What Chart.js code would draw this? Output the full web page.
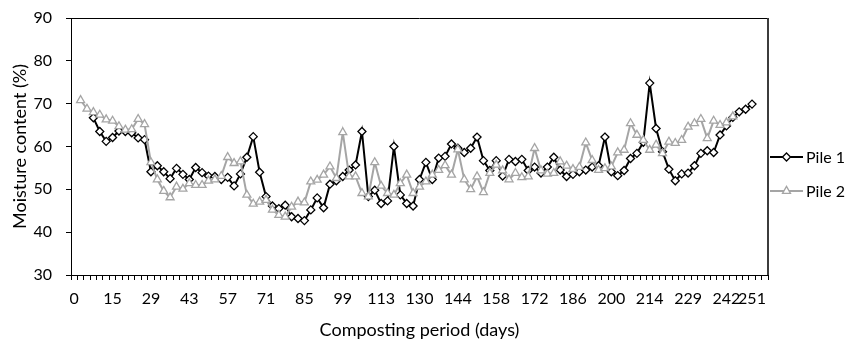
<!DOCTYPE html>
<html>
<head>
<meta charset="utf-8">
<script src="https://cdn.jsdelivr.net/npm/chart.js@4/dist/chart.umd.min.js"></script>
<style>
  html, body { margin: 0; padding: 0; background: #fff; }
  #wrap { width: 850px; height: 340px; position: relative; }
</style>
</head>
<body>
<div id="wrap"><canvas id="c"></canvas></div>
<script>
/* ─── moisture content chart ─────────────────────────────────────────────── */

const nCategories = 109;
const tickDays = ['0', '15', '29', '43', '57', '71', '85', '99', '113', '130', '144', '158', '172', '186', '200', '214', '229', '242', '251'];
const tickAt   = [0, 6, 12, 18, 24, 30, 36, 42, 48, 54, 60, 66, 72, 78, 84, 90, 96, 102, 106];

const seriesNames = ['Pile 1', 'Pile 2'];

const pile1 = [
    null, null, null, 66.7, 63.5, 61.2, 62.1, 63.6, 63.5, 63.2,
    62, 61.6, 54.1, 55.5, 54.1, 52.5, 54.9, 53.5, 52.3, 55.1,
    53.9, 53.1, 53, 52.3, 52.8, 50.8, 53.6, 57.5, 62.3, 54,
    48.3, 46.1, 45.5, 46.3, 43.6, 43.2, 42.7, 45.2, 48, 45.7,
    51.2, 52, 53, 54.5, 55.7, 63.5, 48.3, 49.8, 46.7, 47.3,
    60, 48.7, 46.7, 46.1, 52.3, 56.3, 52.3, 57.3, 57.7, 60.6,
    59.6, 58.6, 59.6, 62.2, 56.7, 54.4, 56.7, 53.1, 57, 56.5,
    57, 54.4, 55.2, 53.8, 55.2, 57.5, 54.5, 53, 53.5, 54.1,
    54.5, 55.2, 55.5, 62.2, 54.1, 53.2, 54.4, 57.2, 58.4, 61,
    74.8, 64.2, 58.8, 54.7, 52, 53.6, 53.8, 55.5, 58.4, 59,
    58.6, 62.7, 64.8, 66.8, 68.1, 68.7, 69.9
];

const pile2 = [
    null, 70.8, 68.8, 68, 67.4, 66.3, 66, 64.7, 63.9, 64,
    66.4, 65.2, 56.3, 52.3, 49.6, 48.1, 50.6, 50.1, 51.4, 51,
    51, 52, 52.3, 53.1, 57.5, 56.1, 56.5, 48.7, 46.6, 47.1,
    47.5, 45.2, 44, 43.6, 45.9, 47.1, 46.9, 51.8, 52.2, 53.4,
    55.3, 52.6, 63.3, 53, 53, 49.1, 48.3, 56.3, 50.8, 49.1,
    48.7, 51.4, 53.4, 49.1, 50.6, 51.8, 53.4, 54.5, 55.6, 53.4,
    59.3, 52.3, 50, 53, 49.3, 53.8, 55.7, 54.4, 52.3, 53.8,
    52.8, 53, 59.6, 54.4, 53.6, 53.8, 56.5, 55.5, 54.7, 55.2,
    60.9, 56.8, 54.5, 54.9, 55.3, 58.6, 59.2, 65.4, 62.7, 61.5,
    59.2, 60.4, 58.4, 61.1, 60.8, 61.5, 64.6, 65.4, 66.4, 61.9,
    66, 65, 65.6, 67
];

const yMin = 30, yMax = 90, yStep = 10;
const xTitle = 'Composting period (days)';
const yTitle = 'Moisture content (%)';

/* category labels: only every few sampling days carry a label */
const categories = Array(nCategories).fill('');
tickAt.forEach((idx, i) => { categories[idx] = tickDays[i]; });

const FONT = { family: 'Lato', size: 16 };
const TITLE_FONT = { family: 'Lato', size: 18 };
const GRAY = '#A5A5A5';

const STYLES = [
    { color: '#000', pointStyle: 'rectRot', radius: 4, order: 2 },
    { color: GRAY, pointStyle: 'triangle', radius: 4.6, order: 1 },
];

/* plot frame, x title and the legend drawn by hand */
const extras = {
    id: 'extras',
    afterDraw(chart) {
        const { ctx, chartArea: a } = chart;
        ctx.save();
        ctx.strokeStyle = '#000';
        ctx.lineWidth = 1;
        ctx.beginPath();
        ctx.moveTo(a.left, a.top + 0.5);
        ctx.lineTo(a.right, a.top + 0.5);
        ctx.stroke();
        ctx.strokeStyle = '#3c3c3c';
        ctx.lineWidth = 2;
        ctx.beginPath();
        ctx.moveTo(a.right, a.top);
        ctx.lineTo(a.right, a.bottom);
        ctx.stroke();

        ctx.fillStyle = '#000';
        ctx.font = `${TITLE_FONT.size}px ${TITLE_FONT.family}`;
        ctx.textAlign = 'center';
        ctx.textBaseline = 'alphabetic';
        ctx.fillText(xTitle, (a.left + a.right) / 2, 336);

        // legend
        ctx.font = `${FONT.size}px ${FONT.family}`;
        const rows = [157, 191];
        seriesNames.forEach((name, i) => {
            const st = STYLES[i];
            const y = rows[i];
            const x0 = a.right + 2, x1 = a.right + 35;
            ctx.strokeStyle = st.color;
            ctx.lineWidth = 2;
            ctx.beginPath();
            ctx.moveTo(x0, y);
            ctx.lineTo(x1, y);
            ctx.stroke();
            ctx.fillStyle = '#fff';
            ctx.strokeStyle = st.color;
            ctx.lineWidth = 1.3;
            Chart.helpers.drawPoint(ctx, { pointStyle: st.pointStyle, radius: st.radius, rotation: 0, borderWidth: 1.3 }, (x0 + x1) / 2, y);
            ctx.fillStyle = '#000';
            ctx.textAlign = 'left';
            ctx.textBaseline = 'middle';
            ctx.fillText(name, x1 + 3, y + 1);
        });
        ctx.restore();
    }
};

new Chart(document.getElementById('c'), {
    type: 'line',
    data: {
        labels: categories,
        datasets: [pile1, pile2].map((vals, i) => ({
            label: seriesNames[i],
            data: vals,
            order: STYLES[i].order,
            borderColor: STYLES[i].color,
            borderWidth: 2,
            tension: 0,
            pointStyle: STYLES[i].pointStyle,
            pointRadius: STYLES[i].radius,
            pointBackgroundColor: '#fff',
            pointBorderColor: STYLES[i].color,
            pointBorderWidth: 1.3,
        }))
    },
    options: {
        animation: false,
        responsive: true,
        maintainAspectRatio: false,
        devicePixelRatio: 1,
        layout: { padding: { top: 18, right: 82, left: 0, bottom: 0 } },
        plugins: {
            legend: { display: false },
            tooltip: { enabled: false },
        },
        scales: {
            x: {
                type: 'category',
                offset: true,
                afterFit(s) { s.height = 65; },
                grid: { offset: true, drawOnChartArea: false, tickLength: 5, color: '#000' },
                border: { color: '#000', width: 1 },
                ticks: { autoSkip: false, maxRotation: 0, minRotation: 0, padding: 9, color: '#000', font: FONT },
            },
            y: {
                min: yMin,
                max: yMax,
                afterFit(s) { s.width = 71; s.paddingTop = 0; s.paddingBottom = 0; },
                grid: { drawOnChartArea: false, tickLength: 5, color: '#000' },
                border: { color: '#000', width: 1 },
                ticks: { stepSize: yStep, padding: 14, color: '#000', font: FONT },
                title: { display: true, text: yTitle, color: '#000', font: TITLE_FONT, padding: { top: 9, bottom: 0 } },
            }
        }
    },
    plugins: [extras]
});
</script>
</body>
</html>
